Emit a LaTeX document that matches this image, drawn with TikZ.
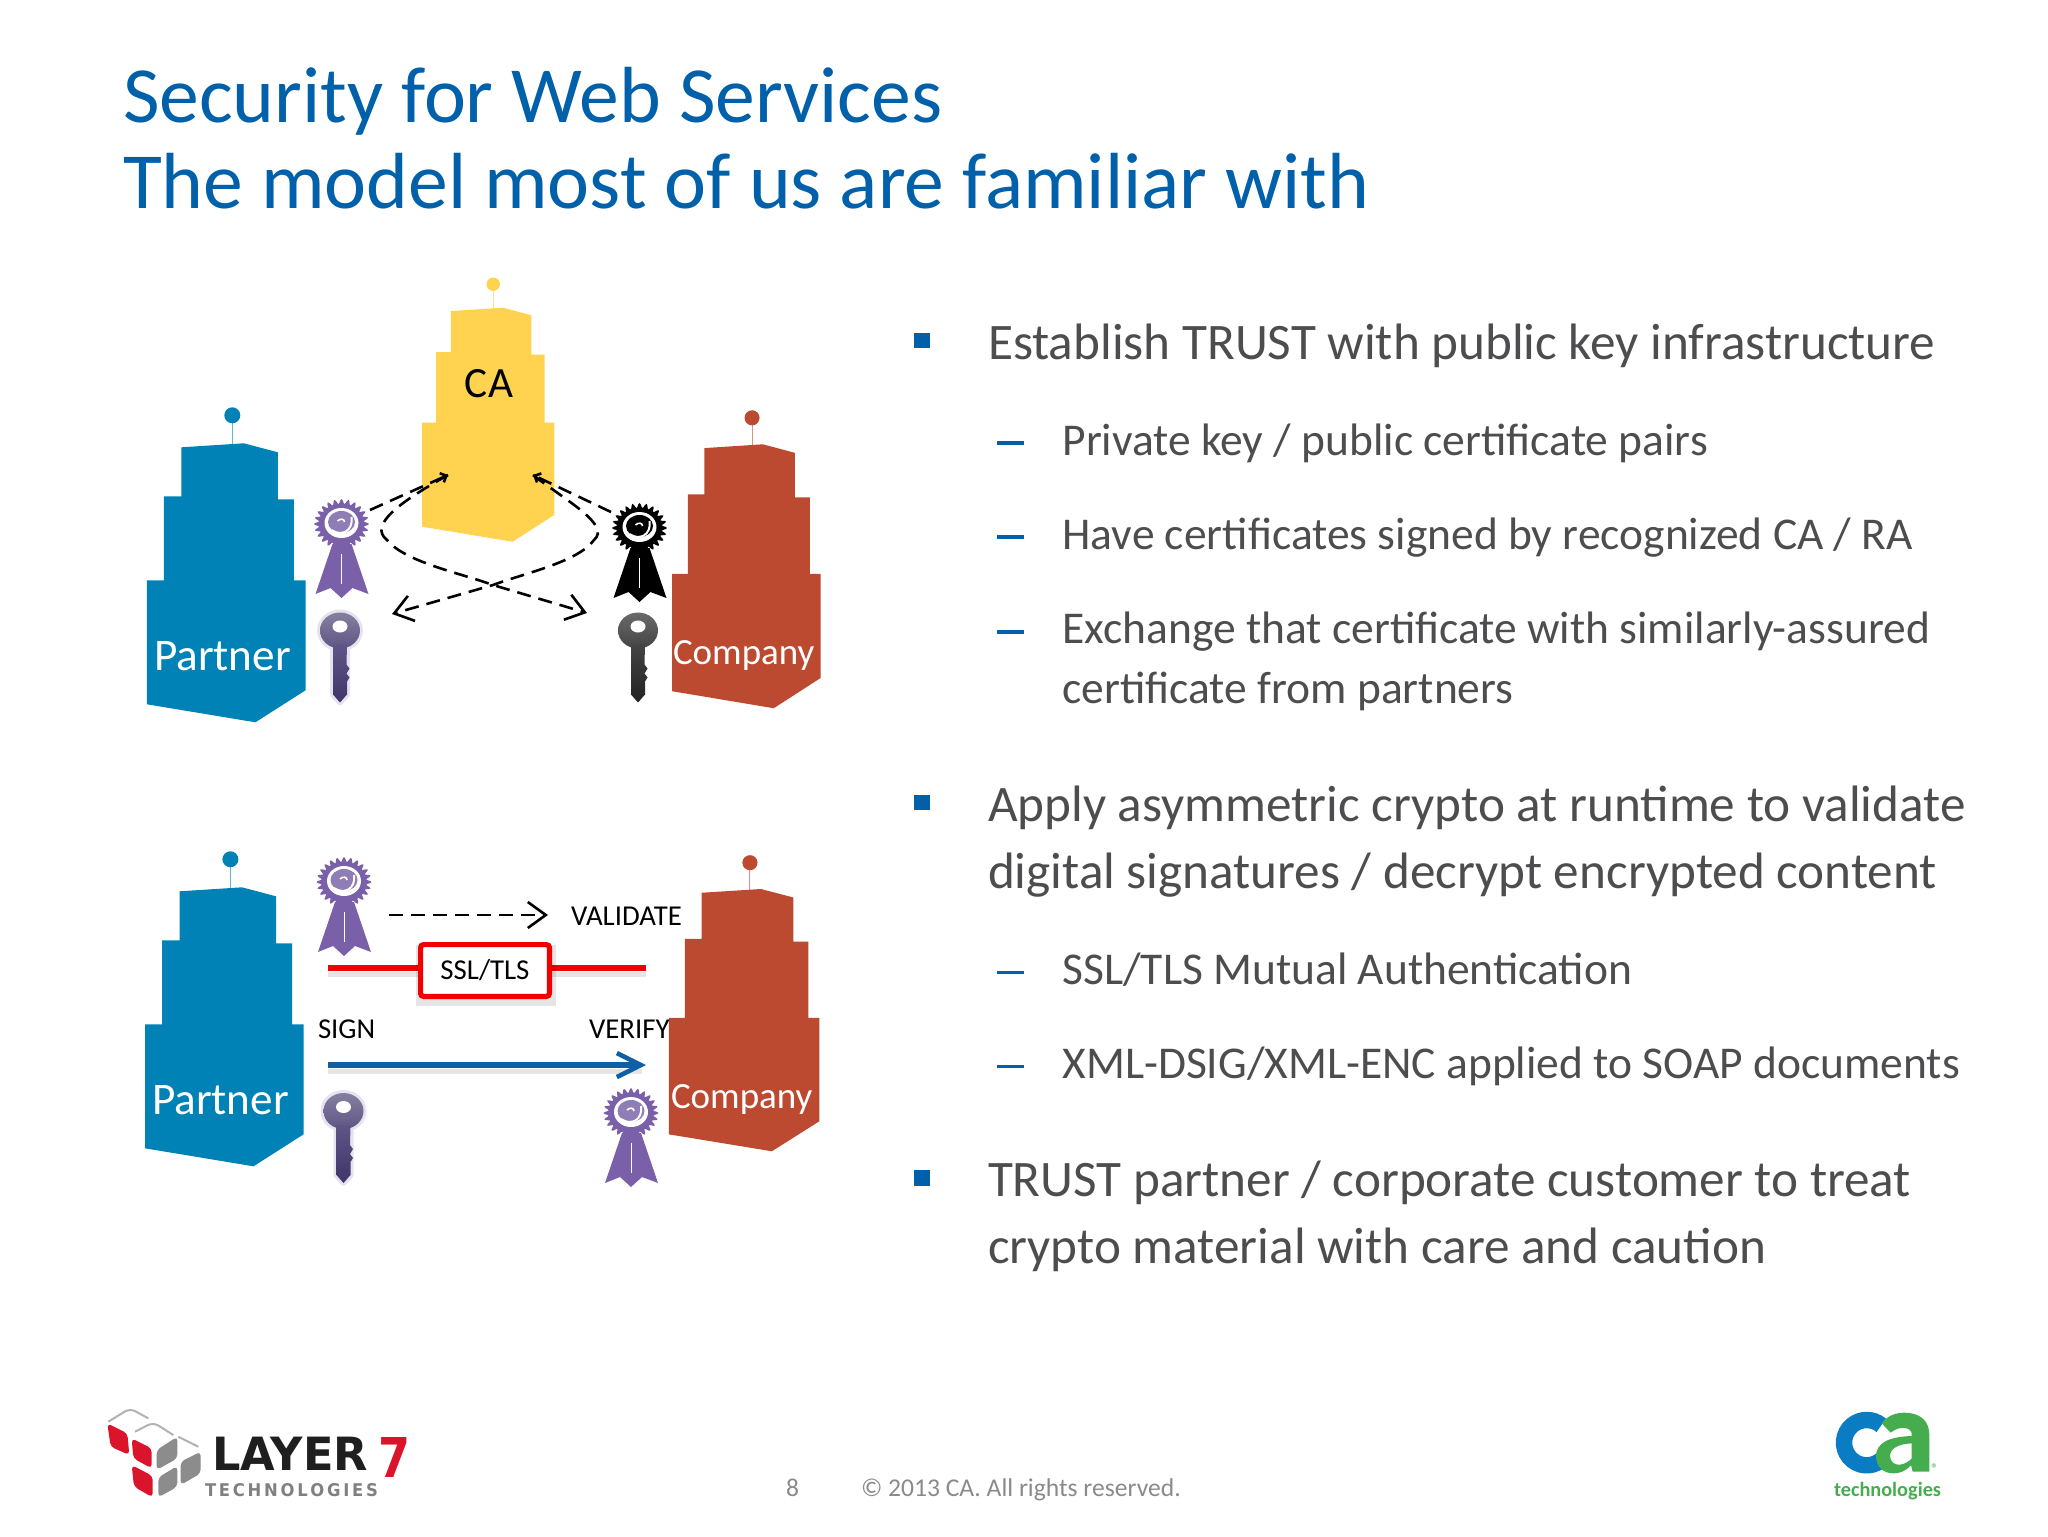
\documentclass[tikz,border=0pt]{standalone}
\usepackage{fontspec}
\setmainfont{Carlito}
\usetikzlibrary{arrows.meta,shapes.geometric}
\definecolor{titleblue}{HTML}{0060A9}
\definecolor{bodygrey}{HTML}{4D4D4F}
\definecolor{footgrey}{HTML}{8A8A8C}
\definecolor{bblue}{HTML}{0082B7}
\definecolor{bred}{HTML}{BC4A30}
\definecolor{byellow}{HTML}{FFD24F}
\definecolor{rpurple}{HTML}{7A60A8}
\definecolor{rcentre}{HTML}{8F7DB6}
\definecolor{arrowblue}{HTML}{0F5FA6}
\definecolor{cablue}{HTML}{0A7CC4}
\definecolor{cagreen}{HTML}{46AD4E}
\definecolor{lred}{HTML}{D9142B}
\definecolor{ptop}{HTML}{86809F}
\definecolor{pmid}{HTML}{5F5586}
\definecolor{pbot}{HTML}{3F3568}
\definecolor{ktop}{HTML}{6A6A6A}
\definecolor{kmid}{HTML}{444444}
\definecolor{kbot}{HTML}{222222}
\definecolor{phalo}{HTML}{E6E2F0}
\tikzset{
  txt/.style={anchor=base west,inner sep=0pt,outer sep=0pt},
  lvlone/.style={txt,text=bodygrey,font=\fontsize{25.6}{30}\selectfont},
  lvltwo/.style={txt,text=bodygrey,font=\fontsize{22.75}{27}\selectfont},
  titletext/.style={txt,text=titleblue,font=\fontsize{39.8}{46}\selectfont},
  foot/.style={txt,text=footgrey,font=\fontsize{12.8}{15}\selectfont},
  bldgname/.style={txt,text=white},
  smalllabel/.style={inner sep=0pt,outer sep=0pt,text=black,font=\fontsize{14.4}{16}\selectfont},
  dashline/.style={black,line width=1.3pt,dash pattern=on 7pt off 4pt},
  bigbarb/.style={-{Straight Barb[length=9pt,width=13pt,line width=1.3pt]}},
  tinybarb/.style={-{Straight Barb[length=2.5pt,width=5pt,line width=1.3pt]}},
  bulletsq/.style={fill=titleblue,draw=none},
  dashmark/.style={titleblue,line width=1.6pt}
}
\newcommand{\bldg}[5]{%
  \begin{scope}[shift={(#1,#2)},xscale=#3,yscale=#4]
    \draw[#5!60,line width=.5pt] (85.4,-24) -- (85.4,1);
    \fill[#5] (85.4,-28) ellipse [x radius=8,y radius=8];
    \fill[#5] (34.5,4) -- (97,0) -- (131,9) -- (131,56) -- (147,56) -- (147,137) -- (158.6,137)
      -- (158.6,247) -- (108.5,279) -- (0,261) -- (0,137) -- (17,137) -- (17,53) -- (34.5,53) -- cycle;
  \end{scope}}
\newcommand{\rosette}[4]{% x,y,colour,centre
  \begin{scope}[shift={(#1,#2)}]
    \fill[#3] (-9,20) -- (-26,70) -- (-11,64) -- (0,74) -- (11,64) -- (27,70) -- (10,20) -- cycle;
    \draw[white,line width=.4pt] (0,30) -- (0,60);
    \fill[#3] plot[domain=0:360,samples=145] ({(25+2.5*cos(24*\x))*cos(\x)},{(22.5+2.5*cos(24*\x))*sin(\x)}) -- cycle;
    \fill[white] (0,-1) ellipse [x radius=17,y radius=15];
    \fill[#4] (0,-2) ellipse [x radius=13.5,y radius=11];
    \draw[white,line width=1pt] (-10,6) .. controls (0,13) and (12,7) .. (10,-7);
    \draw[white,line width=.8pt] (-4,-3) .. controls (-1,-6) and (3,-5) .. (3,-2);
  \end{scope}}
\newcommand{\keyicon}[6]{% x,y,halo,top,mid,bottom
  \begin{scope}[shift={(#1,#2)}]
    \draw[#3,line width=3pt,line join=round] (0,0) ellipse [x radius=20,y radius=18]
      (-7,15) -- (-7,64) -- (0,72) -- (7,64) -- (7,15);
    \path[top color=#4,bottom color=#5,draw=none] (0,0) ellipse [x radius=20,y radius=18];
    \path[top color=#5,bottom color=#6] (-7,14) -- (-7,64) -- (0,72) -- (7,64) -- (7,51) -- (9.5,47) -- (6.5,43) -- (9.5,38) -- (6.5,34) -- (7,14) -- cycle;
    \fill[white] (0,-4) ellipse [x radius=7.5,y radius=6];
  \end{scope}}
\begin{document}
\begin{tikzpicture}[x=.5pt,y=-.5pt]
\useasboundingbox (0,0) rectangle (2048,1536);
% title
\node[titletext] (t1) at (123,122) {Security for Web Services};
\node[titletext] (t2) at (123,208) {The model most of us are familiar with};
% body
\fill[bulletsq] (914,333) rectangle (929.5,348);
\node[lvlone] (l1) at (988,359.5) {Establish TRUST with public key infrastructure};
\draw[dashmark] (997,443) -- (1023.5,443);
\node[lvltwo] (l2) at (1062.5,455.5) {Private key / public certificate pairs};
\draw[dashmark] (997,537) -- (1023.5,537);
\node[lvltwo] (l3) at (1062.5,549.5) {Have certificates signed by recognized CA / RA};
\draw[dashmark] (997,632) -- (1023.5,632);
\node[lvltwo] (l4) at (1062.5,643.5) {Exchange that certificate with similarly-assured};
\node[lvltwo] (l5) at (1062.5,703.5) {certificate from partners};
\fill[bulletsq] (914,794.5) rectangle (929.5,810);
\node[lvlone] (a1) at (988,821.5) {Apply asymmetric crypto at runtime to validate};
\node[lvlone] (a2) at (988,888) {digital signatures / decrypt encrypted content};
\draw[dashmark] (997,972.5) -- (1023.5,972.5);
\node[lvltwo] (s1) at (1062.5,984) {SSL/TLS Mutual Authentication};
\draw[dashmark] (997,1066.5) -- (1023.5,1066.5);
\node[lvltwo] (s2) at (1062.5,1078.5) {XML-DSIG/XML-ENC applied to SOAP documents};
\fill[bulletsq] (914,1170) rectangle (929.5,1185.5);
\node[lvlone] (c1) at (988,1196) {TRUST partner / corporate customer to treat};
\node[lvlone] (c2) at (988,1263.5) {crypto material with care and caution};
% top diagram
\bldg{146.9}{443.3}{1}{1}{bblue}
\bldg{672}{444.3}{.9375}{.946}{bred}
\bldg{422}{307.7}{.834}{.839}{byellow}
\node[bldgname,font=\fontsize{22.6}{26}\selectfont] (p1) at (154,670) {Partner};
\node[bldgname,font=\fontsize{18.5}{22}\selectfont] (co1) at (673,664) {Company};
\node[inner sep=0pt,text=black,font=\fontsize{21.6}{26}\selectfont] (ca) at (489,384) {CA};
\rosette{341.5}{524}{rpurple}{rcentre}
\keyicon{340}{630.5}{phalo}{ptop}{pmid}{pbot}
\rosette{639.5}{528}{black}{black}
\keyicon{638}{630.5}{white}{ktop}{kmid}{kbot}
\coordinate (rl) at (370,510); \coordinate (cl) at (448,475);
\coordinate (rr) at (611,512); \coordinate (cr) at (533,475);
\coordinate (xm) at (493,585); \coordinate (kr) at (587,613); \coordinate (kl) at (392,614);
\draw[dashline,tinybarb] (rl) -- (cl);
\draw[dashline,tinybarb] (rr) -- (cr);
\draw[dashline,bigbarb] (cl) .. controls (400,502) and (368,525) .. (387,540) .. controls (405,562) and (460,573) .. (xm) -- (kr);
\draw[dashline,bigbarb] (cr) .. controls (568,502) and (611,525) .. (594,540) .. controls (578,562) and (525,573) .. (xm) -- (kl);
% bottom diagram
\bldg{145}{887.3}{1}{1}{bblue}
\bldg{668.8}{889}{.95}{.94}{bred}
\node[bldgname,font=\fontsize{22.6}{26}\selectfont] (p2) at (152,1114) {Partner};
\node[bldgname,font=\fontsize{18.5}{22}\selectfont] (co2) at (671,1108) {Company};
\rosette{344}{882}{rpurple}{rcentre}
\keyicon{343.5}{1111}{phalo}{ptop}{pmid}{pbot}
\rosette{631}{1113}{rpurple}{rcentre}
\coordinate (vs) at (389,915); \coordinate (ve) at (548,915);
\draw[dashline,bigbarb] (vs) -- (ve);
\node[smalllabel,anchor=west] (val) at (571,916) {VALIDATE};
\coordinate (rs) at (327.6,968); \coordinate (re) at (646,968);
\draw[black,opacity=.1,line width=2.5pt] (327.6,974) -- (646,974);
\draw[red!95!black,line width=3pt] (rs) -- (re);
\fill[black,opacity=.1] (416,945) rectangle (556,1006);
\node[draw=red!95!black,line width=2.6pt,fill=white,rounded corners=1.5pt,minimum width=64.4pt,minimum height=25.9pt,inner sep=0pt,text=black,font=\fontsize{14.4}{16}\selectfont] (ssl) at (485,970.5) {SSL/TLS};
\node[smalllabel,anchor=west] (sign) at (318,1029) {SIGN};
\node[smalllabel,anchor=west] (ver) at (589,1029) {VERIFY};
\coordinate (bs) at (327.6,1065); \coordinate (be) at (646,1065);
\draw[black,opacity=.1,line width=2.5pt] (327.6,1071) -- (642,1071);
\draw[arrowblue,line width=2.7pt,-{Straight Barb[length=12pt,width=12pt,line width=2.3pt]}] (bs) -- (be);
% footer
\node[foot] (pg) at (786,1496) {8};
\node[foot] (cp) at (861,1496) {© 2013 CA. All rights reserved.};
% Layer 7 logo
\begin{scope}[shift={(90,1390)},x=.16667pt,y=-.16667pt]
  \draw[black!30,line width=1pt,rounded corners=3pt] (55,95) -- (120,55) -- (175,85);
  \draw[black!30,line width=1pt,rounded corners=3pt] (135,125) -- (190,97) -- (250,135);
  \draw[black!30,line width=1pt,rounded corners=3pt] (265,140) -- (325,170);
  \fill[lred,rounded corners=2pt] (52,100) -- (112,130) -- (118,195) -- (62,170) -- cycle;
  \fill[lred,rounded corners=2pt] (125,145) -- (185,175) -- (185,235) -- (130,205) -- cycle;
  \fill[lred,rounded corners=2pt] (125,225) -- (188,258) -- (188,322) -- (132,290) -- cycle;
  \fill[black!45,rounded corners=2pt] (200,180) -- (262,140) -- (262,205) -- (200,240) -- cycle;
  \fill[black!45,rounded corners=2pt] (205,262) -- (262,228) -- (262,290) -- (205,322) -- cycle;
  \fill[black!45,rounded corners=2pt] (272,215) -- (332,185) -- (332,250) -- (272,285) -- cycle;
\end{scope}
\node[txt] (lay) at (212,1470) {\resizebox{78pt}{16.7pt}{\fontspec{DejaVu Sans}\bfseries\color{black!88}LAYER}};
\node[txt] (sev) at (378,1477) {\resizebox{16pt}{20pt}{\fontspec{DejaVu Sans}\bfseries\color{lred}7}};
\node[txt] (tec) at (205,1496) {\resizebox{86.5pt}{6.5pt}{\fontspec{DejaVu Sans}\bfseries\color{black!50}T\,E\,C\,H\,N\,O\,L\,O\,G\,I\,E\,S}};
% CA logo
\begin{scope}[shift={(1800,1390)},x=.16667pt,y=-.16667pt]
  \draw[cablue,line width=8.2pt] (243.7,210) arc [start angle=50,end angle=310,radius=68];
  \fill[cagreen,even odd rule] (245,100) .. controls (262,78) and (285,68) .. (312,68)
     .. controls (360,68) and (388,92) .. (388,135) -- (388,245) -- (338,245) -- (333,225)
     .. controls (318,243) and (300,250) .. (280,250) .. controls (248,250) and (228,228) .. (228,198)
     .. controls (228,160) and (265,140) .. (335,138) -- (335,130) .. controls (332,112) and (300,105) .. (272,128) -- cycle
     (335,160) .. controls (295,162) and (270,175) .. (270,198) .. controls (270,215) and (285,226) .. (300,224) .. controls (315,222) and (330,212) .. (335,205) -- cycle;
\end{scope}
\node[anchor=center,inner sep=0pt,text=cagreen,font=\fontsize{7}{7}\selectfont] (reg) at (1935,1469) {®};
\node[txt] (tech) at (1834,1496) {\resizebox{53.5pt}{!}{\bfseries\color{cagreen}technologies}};
\end{tikzpicture}
\end{document}
